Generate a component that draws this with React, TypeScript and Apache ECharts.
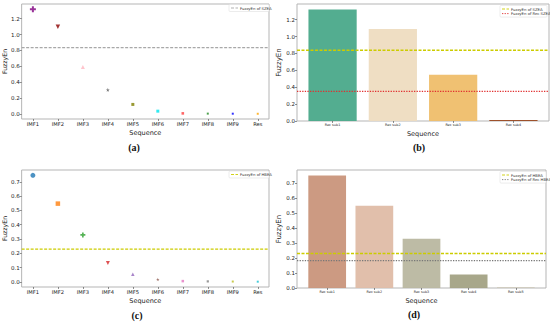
import React, { useEffect, useRef } from "react";
import * as echarts from "echarts";

// ---------- data ----------
const SEQ_LABELS = ["IMF1", "IMF2", "IMF3", "IMF4", "IMF5", "IMF6", "IMF7", "IMF8", "IMF9", "Res"];
const A_VALUES = [1.32, 1.1, 0.59, 0.302, 0.118, 0.033, 0.005, 0.002, 0.001, 0.0];
const A_SZEA = 0.835;

const B_LABELS = ["Rec sub1", "Rec sub2", "Rec sub3", "Rec sub4"];
const B_VALUES = [1.32, 1.09, 0.548, 0.012];
const B_SZEA = 0.838;
const B_REC_SZEA = 0.35;

const C_VALUES = [0.745, 0.547, 0.328, 0.132, 0.053, 0.017, 0.005, 0.003, 0.002, 0.001];
const C_HBEA = 0.229;

const D_LABELS = ["Rec sub1", "Rec sub2", "Rec sub3", "Rec sub4", "Rec sub5"];
const D_VALUES = [0.749, 0.548, 0.329, 0.09, 0.001];
const D_HBEA = 0.23;
const D_REC_HBEA = 0.182;

const A_TICKS = [0, 0.2, 0.4, 0.6, 0.8, 1.0, 1.2];
const B_TICKS = [0, 0.2, 0.4, 0.6, 0.8, 1.0, 1.2];
const C_TICKS = [0, 0.1, 0.2, 0.3, 0.4, 0.5, 0.6, 0.7];
const D_TICKS = [0, 0.1, 0.2, 0.3, 0.4, 0.5, 0.6, 0.7];

const A_LEGEND = ["FuzzyEn of SZEA"];
const B_LEGEND = ["FuzzyEn of SZEA", "FuzzyEn of Rec SZEA"];
const C_LEGEND = ["FuzzyEn of HBEA"];
const D_LEGEND = ["FuzzyEn of HBEA", "FuzzyEn of Rec HBEA"];

// ---------- styles ----------
const PLUS = "path://M1,0L2,0L2,1L3,1L3,2L2,2L2,3L1,3L1,2L0,2L0,1L1,1Z";
const STAR =
  "path://M50,0L61,35L98,35L68,57L79,91L50,70L21,91L32,57L2,35L39,35Z";
const A_STYLE = [
  { symbol: PLUS, size: 6, color: "#800080", rot: 0 },
  { symbol: "triangle", size: 4.5, color: "#8b0000", rot: 180 },
  { symbol: "triangle", size: 4, color: "#ffb6c1", rot: 0 },
  { symbol: STAR, size: 4, color: "#555555", rot: 0 },
  { symbol: "rect", size: 3, color: "#808000", rot: 0 },
  { symbol: "rect", size: 3, color: "#00e5ee", rot: 0 },
  { symbol: "rect", size: 2.6, color: "#ff4040", rot: 0 },
  { symbol: "rect", size: 2, color: "#228b22", rot: 0 },
  { symbol: "rect", size: 2, color: "#0000ff", rot: 0 },
  { symbol: "rect", size: 2, color: "#ffa500", rot: 0 },
];
const C_STYLE = [
  { symbol: "circle", size: 5, color: "#1f77b4", rot: 0 },
  { symbol: "rect", size: 4.5, color: "#ff7f0e", rot: 0 },
  { symbol: PLUS, size: 5, color: "#2ca02c", rot: 0 },
  { symbol: "triangle", size: 4, color: "#d62728", rot: 180 },
  { symbol: "triangle", size: 3.5, color: "#9467bd", rot: 0 },
  { symbol: STAR, size: 3.5, color: "#8c564b", rot: 0 },
  { symbol: "rect", size: 2.5, color: "#e377c2", rot: 0 },
  { symbol: "rect", size: 2.2, color: "#7f7f7f", rot: 0 },
  { symbol: "rect", size: 2, color: "#bcbd22", rot: 0 },
  { symbol: "rect", size: 2, color: "#17becf", rot: 0 },
];
const B_COLORS = ["#4aa98a", "#eedcc0", "#efbe6a", "#9a4a22"];
const D_COLORS = ["#c9957b", "#dfbca6", "#b9b7a0", "#a3a284", "#b0a070"];

const GRIDS = [
  { left: 19, top: 4, width: 250, height: 115 },
  { left: 297, top: 4, width: 252, height: 117 },
  { left: 19, top: 170, width: 250, height: 117 },
  { left: 297, top: 170, width: 249, height: 118 },
];

const FONT = "DejaVu Sans";
const FRAME = "#b5b5b5";
const GRAY_DASH = "#a8a8a8";
const YELLOW = "#cccc00";
const RED = "#e03030";
const DARK_GRAY = "#777777";
const DASH = [3, 1.5];
const DOT = [1.3, 1.3];

function scatterRange(vals: number[]) {
  const mx = Math.max(...vals);
  const mn = Math.min(...vals);
  const pad = (mx - mn) * 0.05;
  return [mn - pad, mx + pad];
}
function barYRange(vals: number[]) {
  return [0, Math.max(...vals) * 1.05];
}
function barXRange(n: number) {
  const pad = (n - 1 + 0.8) * 0.05;
  return [-0.4 - pad, n - 1 + 0.4 + pad];
}

export default function App() {
  const ref = useRef<HTMLDivElement>(null);
  useEffect(() => {
    if (!ref.current) return;
    const chart = echarts.init(ref.current, undefined, { renderer: "svg" });

    const aY = scatterRange(A_VALUES);
    const cY = scatterRange(C_VALUES);
    const bY = barYRange(B_VALUES);
    const dY = barYRange(D_VALUES);
    const bX = barXRange(B_VALUES.length);
    const dX = barXRange(D_VALUES.length);
    const seqX = [-0.45, SEQ_LABELS.length - 1 + 0.45];

    const xAxisBase = (gi: number, range: number[], labels: string[], labelSize: number, gap: number) => ({
      type: "value",
      gridIndex: gi,
      min: range[0],
      max: range[1],
      name: "Sequence",
      nameLocation: "middle",
      nameGap: gap,
      nameTextStyle: { fontFamily: FONT, fontSize: 6.5, color: "#222" },
      axisLine: { show: false, onZero: false },
      splitLine: { show: false },
      axisTick: {
        show: true,
        customValues: labels.map((_, i) => i),
        length: 2,
        lineStyle: { color: "#444", width: 0.6 },
      },
      axisLabel: {
        customValues: labels.map((_, i) => i),
        formatter: (v: number) => labels[Math.round(v)] ?? "",
        fontFamily: FONT,
        fontSize: labelSize,
        color: "#222",
        margin: 2,
      },
    });
    const yAxisBase = (gi: number, range: number[], ticks: number[], gap: number, nameSize: number) => ({
      type: "value",
      gridIndex: gi,
      min: range[0],
      max: range[1],
      name: "FuzzyEn",
      nameLocation: "middle",
      nameGap: gap,
      nameTextStyle: { fontFamily: FONT, fontSize: nameSize, color: "#222" },
      axisLine: { show: false, onZero: false },
      splitLine: { show: false },
      axisTick: {
        show: true,
        customValues: ticks,
        length: 2,
        lineStyle: { color: "#444", width: 0.6 },
      },
      axisLabel: {
        customValues: ticks,
        formatter: (v: number) => v.toFixed(1),
        fontFamily: FONT,
        fontSize: 5.5,
        color: "#222",
        margin: 2,
      },
    });

    const scatterData = (vals: number[], styles: typeof A_STYLE) =>
      vals.map((v, i) => ({
        value: [i, v],
        symbol: styles[i].symbol,
        symbolSize: styles[i].size,
        symbolRotate: styles[i].rot,
        itemStyle: { color: styles[i].color },
      }));
    const barData = (vals: number[], colors: string[]) =>
      vals.map((v, i) => ({ value: [i, v], itemStyle: { color: colors[i], opacity: 0.95 } }));

    // horizontal reference line spanning the full x extent of its axis
    const refLine = (gi: number, xr: number[], value: number, color: string, dash: number[]) => ({
      type: "line",
      xAxisIndex: gi,
      yAxisIndex: gi,
      data: [
        [xr[0], value],
        [xr[1], value],
      ],
      symbol: "none",
      silent: true,
      z: 5,
      itemStyle: { color },
      lineStyle: { color, width: 1.3, type: dash },
    });

    const legendBox = (
      x: number,
      y: number,
      w: number,
      names: string[],
      styles: { color: string; dash: number[] }[]
    ) => {
      const rowH = 4.6;
      const h = names.length * rowH + 2.4;
      const children: any[] = [
        {
          type: "rect",
          shape: { x: 0, y: 0, width: w, height: h, r: 1 },
          style: { fill: "#fff", stroke: "#d8d8d8", lineWidth: 0.5 },
        },
      ];
      names.forEach((n, i) => {
        const cy = 1.2 + rowH * i + rowH / 2;
        children.push({
          type: "line",
          shape: { x1: 2, y1: cy, x2: 9, y2: cy },
          style: { stroke: styles[i].color, lineWidth: 0.9, lineDash: styles[i].dash },
        });
        children.push({
          type: "text",
          x: 11,
          y: cy,
          style: {
            text: n,
            fontFamily: FONT,
            fontSize: 3.8,
            fill: "#333",
            textVerticalAlign: "middle",
          },
        });
      });
      return { type: "group", x, y, z: 100, children };
    };

    const bw = (gi: number, range: number[]) => (0.8 * GRIDS[gi].width) / (range[1] - range[0]);

    const caption = (text: string, x: number, y: number) => ({
      type: "text",
      x,
      y,
      style: {
        text,
        fontFamily: "Liberation Serif",
        fontWeight: "bold",
        fontSize: 10,
        fill: "#111",
        textAlign: "center",
        textVerticalAlign: "middle",
      },
    });

    chart.setOption({
      animation: false,
      backgroundColor: "#fff",
      grid: GRIDS.map((g) => ({ ...g, show: true, borderColor: FRAME, borderWidth: 1, backgroundColor: "transparent" })),
      xAxis: [
        xAxisBase(0, seqX, SEQ_LABELS, 5.2, 10),
        xAxisBase(1, bX, B_LABELS, 3.4, 9),
        xAxisBase(2, seqX, SEQ_LABELS, 5.2, 10),
        xAxisBase(3, dX, D_LABELS, 3.4, 9),
      ],
      yAxis: [
        yAxisBase(0, aY, A_TICKS, 12, 6.2),
        yAxisBase(1, bY, B_TICKS, 11, 7),
        yAxisBase(2, cY, C_TICKS, 12, 6.2),
        yAxisBase(3, dY, D_TICKS, 11, 7),
      ],
      series: [
        refLine(0, seqX, A_SZEA, GRAY_DASH, DASH),
        {
          type: "scatter",
          xAxisIndex: 0,
          yAxisIndex: 0,
          data: scatterData(A_VALUES, A_STYLE),
        },
        {
          type: "bar",
          xAxisIndex: 1,
          yAxisIndex: 1,
          barWidth: bw(1, bX),
          data: barData(B_VALUES, B_COLORS),
        },
        refLine(1, bX, B_SZEA, YELLOW, DASH),
        refLine(1, bX, B_REC_SZEA, RED, DOT),
        refLine(2, seqX, C_HBEA, YELLOW, DASH),
        {
          type: "scatter",
          xAxisIndex: 2,
          yAxisIndex: 2,
          data: scatterData(C_VALUES, C_STYLE),
        },
        {
          type: "bar",
          xAxisIndex: 3,
          yAxisIndex: 3,
          barWidth: bw(3, dX),
          data: barData(D_VALUES, D_COLORS),
        },
        refLine(3, dX, D_HBEA, YELLOW, DASH),
        refLine(3, dX, D_REC_HBEA, DARK_GRAY, DOT),
      ],
      graphic: [
        legendBox(229, 4.5, 40, A_LEGEND, [{ color: GRAY_DASH, dash: DASH }]),
        legendBox(500, 5.5, 47, B_LEGEND, [
          { color: YELLOW, dash: DASH },
          { color: RED, dash: DOT },
        ]),
        legendBox(229, 171, 40, C_LEGEND, [{ color: YELLOW, dash: DASH }]),
        legendBox(500, 171.5, 46, D_LEGEND, [
          { color: YELLOW, dash: DASH },
          { color: DARK_GRAY, dash: DOT },
        ]),
        caption("(a)", 134, 147),
        caption("(b)", 419, 147),
        caption("(c)", 137, 315),
        caption("(d)", 414, 314),
      ],
    });
    return () => chart.dispose();
  }, []);
  return <div ref={ref} style={{ position: "absolute", left: 0, top: 0, width: 550, height: 322 }} />;
}
